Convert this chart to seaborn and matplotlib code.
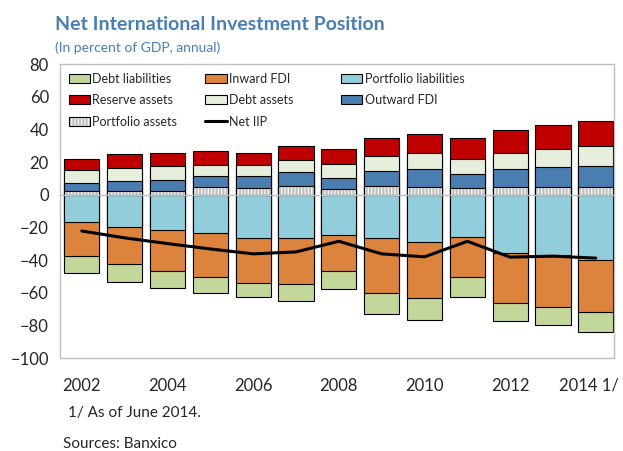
import matplotlib
matplotlib.use("Agg")
import matplotlib.pyplot as plt
import matplotlib.transforms as mtransforms
from matplotlib.patches import Patch
from matplotlib.lines import Line2D
import pandas as pd
import seaborn as sns

# Values (percent of GDP)
years = [str(y) for y in range(2002, 2015)]
year_labels = ["2002", "", "2004", "", "2006", "", "2008", "",
               "2010", "", "2012", "", "2014 1/"]

portfolio_assets = [2.0, 2.0, 2.0, 4.5, 4.1, 5.3, 3.5, 5.1, 4.9, 3.9, 4.9, 4.5, 4.5]
outward_fdi = [5.1, 6.3, 7.0, 6.7, 7.3, 8.5, 6.5, 9.5, 10.8, 8.7, 11.0, 12.6, 13.0]
debt_assets = [8.0, 7.8, 8.3, 6.7, 6.5, 7.4, 8.8, 9.0, 9.9, 9.2, 9.7, 11.0, 12.2]
reserve_assets = [6.7, 8.7, 8.3, 8.7, 7.7, 8.9, 9.1, 11.0, 11.6, 12.8, 14.1, 14.6, 15.4]

portfolio_liabilities = [-16.9, -19.7, -21.5, -23.4, -26.2, -26.2, -24.5,
                         -26.6, -28.9, -26.0, -35.6, -36.8, -40.1]
inward_fdi = [-20.7, -22.8, -25.1, -27.2, -27.7, -28.3, -22.2,
              -33.8, -34.4, -24.4, -30.7, -31.7, -31.7]
debt_liabilities = [-10.6, -11.2, -10.5, -9.8, -8.9, -10.6, -10.7,
                    -12.8, -13.6, -12.0, -11.0, -11.4, -12.0]

net_iip = [-22.2, -26.4, -29.9, -33.2, -36.2, -35.0, -28.5,
           -36.2, -38.0, -28.5, -38.2, -37.6, -38.8]

colors = {
    "Debt liabilities": "#c4d79b",
    "Inward FDI": "#dc833d",
    "Portfolio liabilities": "#92cddc",
    "Reserve assets": "#c00000",
    "Debt assets": "#e6efdc",
    "Outward FDI": "#4a7eb0",
    "Portfolio assets": "#bfbfbf",
}

sns.set_theme(style="white")
plt.rcParams["font.family"] = ["Lato", "DejaVu Sans"]

df = pd.DataFrame({
    "year": years,
    "pa": portfolio_assets,
    "ofdi": outward_fdi,
    "da": debt_assets,
    "ra": reserve_assets,
    "pl": portfolio_liabilities,
    "ifdi": inward_fdi,
    "dl": debt_liabilities,
})
# cumulative tops for stacking (drawn back to front)
df["ofdi_top"] = df.pa + df.ofdi
df["da_top"] = df.ofdi_top + df.da
df["ra_top"] = df.da_top + df.ra
df["ifdi_bot"] = df.pl + df.ifdi
df["dl_bot"] = df.ifdi_bot + df.dl

fig = plt.figure(figsize=(6.23, 4.51), dpi=100)
ax = fig.add_axes([0.0963, 0.206, 0.889, 0.652])

bar_kws = dict(x="year", order=years, ax=ax, width=0.82, saturation=1,
               errorbar=None, edgecolor="black", linewidth=0.8)

layers = [
    ("ra_top", "Reserve assets"),
    ("da_top", "Debt assets"),
    ("ofdi_top", "Outward FDI"),
    ("dl_bot", "Debt liabilities"),
    ("ifdi_bot", "Inward FDI"),
    ("pl", "Portfolio liabilities"),
]
for col, name in layers:
    sns.barplot(data=df, y=col, color=colors[name], **bar_kws)

# portfolio assets: grey with light vertical stripes, then black outline
n0 = len(ax.patches)
sns.barplot(data=df, x="year", y="pa", order=years, ax=ax, width=0.82,
            saturation=1, errorbar=None, color=colors["Portfolio assets"],
            edgecolor="#f0f0f0", linewidth=0)
for p in ax.patches[n0:]:
    p.set_hatch("|||||")
sns.barplot(data=df, x="year", y="pa", order=years, ax=ax, width=0.82,
            saturation=1, errorbar=None, fill=False, color="black",
            linewidth=0.8)

ax.axhline(0, color="#bfbfbf", linewidth=1, zorder=5)

sns.lineplot(x=list(range(len(years))), y=net_iip, ax=ax, color="black",
             linewidth=2.2, zorder=6)

ax.set_ylim(-100, 80)
ax.set_xlim(-0.51, 12.42)
ax.set_yticks(range(-100, 81, 20))
ax.set_xticks(range(len(years)))
ax.set_xticklabels(year_labels)
ax.set_xlabel("")
ax.set_ylabel("")
ax.tick_params(axis="y", direction="in", length=5, color="#bfbfbf",
               labelsize=12, pad=8)
ax.tick_params(axis="x", length=0, labelsize=12, pad=14)
for s in ax.spines.values():
    s.set_color("#bfbfbf")
    s.set_linewidth(1)

# nudge the last year label left so it stays inside the figure
last = ax.get_xticklabels()[-1]
last.set_transform(last.get_transform() +
                   mtransforms.ScaledTranslation(-5 / 72, 0, fig.dpi_scale_trans))

# legend, row-major order in a 3-column layout
hatched = (Patch(facecolor=colors["Portfolio assets"], edgecolor="#f0f0f0",
                 hatch="|||||", linewidth=0),
           Patch(facecolor="none", edgecolor="black", linewidth=0.8))


def box(name):
    return Patch(facecolor=colors[name], edgecolor="black", linewidth=0.8)


handles = [box("Debt liabilities"), box("Reserve assets"), hatched,
           box("Inward FDI"), box("Debt assets"),
           Line2D([], [], color="black", linewidth=2.2),
           box("Portfolio liabilities"), box("Outward FDI")]
# trailing spaces keep the legend columns evenly spaced
labels = ["Debt liabilities", "Reserve assets", "Portfolio assets",
          "Inward FDI", "Debt assets      ", "Net IIP",
          "Portfolio liabilities", "Outward FDI"]
ax.legend(handles, labels, ncol=3, loc="upper left", bbox_to_anchor=(0.0, 1.0),
          frameon=False, fontsize=9, handlelength=1.7, handleheight=0.7,
          handletextpad=0.2, labelspacing=0.75, columnspacing=2.25,
          borderaxespad=0.3)

fig.text(55 / 623, 1 - 24 / 451, "Net International Investment Position",
         color="#4a7eb3", fontsize=14, fontweight="bold", va="center")
fig.text(55 / 623, 1 - 48 / 451, "(In percent of GDP, annual)",
         color="#4a7eb3", fontsize=10, va="center")
fig.text(68 / 623, 1 - 413 / 451, "1/ As of June 2014.", fontsize=11,
         va="center")
fig.text(63 / 623, 1 - 444 / 451, "Sources: Banxico", fontsize=11,
         va="center")

fig.savefig("out.png", dpi=100)
